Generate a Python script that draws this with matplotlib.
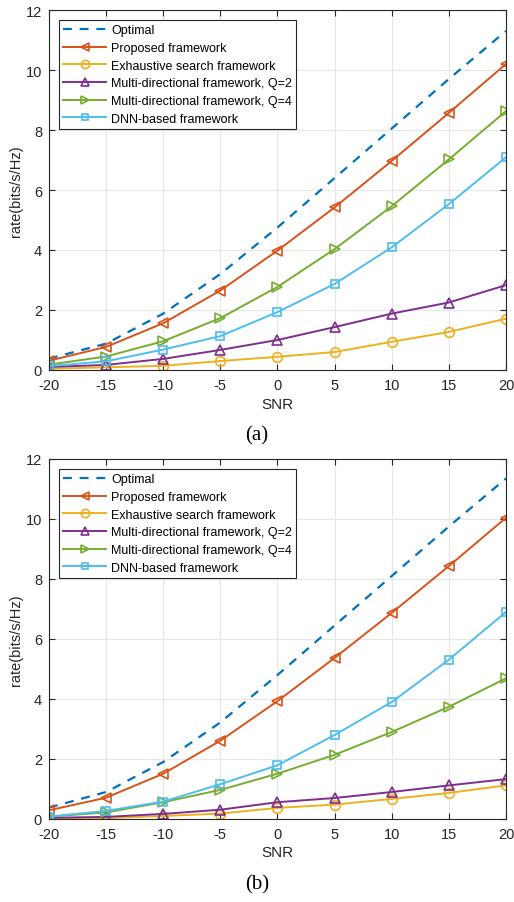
import matplotlib
matplotlib.use("Agg")
import matplotlib.pyplot as plt

snr = [-20, -15, -10, -5, 0, 5, 10, 15, 20]

labels = ["Optimal", "Proposed framework", "Exhaustive search framework",
          "Multi-directional framework, Q=2", "Multi-directional framework, Q=4",
          "DNN-based framework"]

# panel (a)
opt_a = [0.38, 0.88, 1.88, 3.2, 4.75, 6.4, 8.05, 9.7, 11.3]
prop_a = [0.31, 0.77, 1.56, 2.65, 3.98, 5.42, 6.97, 8.57, 10.2]
exh_a = [0.04, 0.09, 0.14, 0.30, 0.44, 0.60, 0.94, 1.27, 1.71]
q2_a = [0.10, 0.17, 0.37, 0.67, 1.0, 1.43, 1.88, 2.25, 2.83]
q4_a = [0.18, 0.45, 0.96, 1.73, 2.77, 4.03, 5.46, 7.02, 8.63]
dnn_a = [0.13, 0.29, 0.68, 1.13, 1.93, 2.87, 4.09, 5.53, 7.09]

# panel (b)
opt_b = [0.38, 0.9, 1.9, 3.22, 4.8, 6.45, 8.1, 9.75, 11.35]
prop_b = [0.29, 0.71, 1.51, 2.61, 3.93, 5.37, 6.87, 8.43, 10.04]
exh_b = [0.02, 0.03, 0.10, 0.18, 0.37, 0.48, 0.67, 0.87, 1.12]
q2_b = [0.04, 0.07, 0.17, 0.31, 0.56, 0.70, 0.90, 1.12, 1.33]
q4_b = [0.08, 0.22, 0.56, 0.97, 1.51, 2.14, 2.90, 3.74, 4.69]
dnn_b = [0.08, 0.27, 0.58, 1.16, 1.79, 2.80, 3.90, 5.31, 6.90]

colors = ["#0072BD", "#D95319", "#EDB120", "#7E2F8E", "#77AC30", "#4DBEEE"]
markers = [None, "<", "o", "^", ">", "s"]
msizes = [0, 7, 7, 7.5, 7.5, 5.5]

plt.rcParams["font.family"] = ["Liberation Sans", "DejaVu Sans"]
plt.rcParams["axes.unicode_minus"] = False

fig = plt.figure(figsize=(5.14, 9.03), dpi=100)
ax_a = fig.add_axes([0.0953, 1 - 371 / 903, 0.8891, 360 / 903])
ax_b = fig.add_axes([0.0953, 1 - 820 / 903, 0.8891, 360 / 903])


def draw(ax, series, tag, ycap):
    for i, ys in enumerate(series):
        if i == 0:
            ax.plot(snr, ys, ls=(0, (4, 3.5)), color=colors[i], lw=1.6, label=labels[i])
        else:
            ax.plot(snr, ys, color=colors[i], lw=1.4, marker=markers[i],
                    ms=msizes[i], mfc="none", mew=1.2, label=labels[i])
    ax.set_xlim(-20, 20)
    ax.set_ylim(0, 12)
    ax.set_xticks(snr)
    ax.set_yticks(range(0, 13, 2))
    ax.grid(True, color="#e6e6e6", lw=0.8)
    ax.set_axisbelow(True)
    ax.tick_params(direction="in", top=True, right=True, labelsize=10.5,
                   length=4, color="#262626", labelcolor="#262626")
    ax.tick_params(axis="x", pad=6)
    ax.tick_params(axis="y", pad=5)
    for s in ax.spines.values():
        s.set_color("#262626")
        s.set_linewidth(0.8)
    ax.set_ylabel("rate(bits/s/Hz)", fontsize=10.5, color="#262626", labelpad=2)
    ax.set_xlabel("SNR", fontsize=11, color="#262626", labelpad=3)
    leg = ax.legend(loc="upper left", bbox_to_anchor=(0.022, 0.972), fontsize=9,
                    handlelength=3.4, handletextpad=0.4, labelspacing=0.45,
                    borderpad=0.35, borderaxespad=0, fancybox=False,
                    edgecolor="#262626", framealpha=1, markerscale=0.85)
    leg.get_frame().set_linewidth(0.8)
    fig.text(0.5, ycap, tag, ha="center", va="center", fontsize=15,
             family=["Liberation Serif", "DejaVu Serif"])


draw(ax_a, [opt_a, prop_a, exh_a, q2_a, q4_a, dnn_a], "(a)", 1 - 436 / 903)
draw(ax_b, [opt_b, prop_b, exh_b, q2_b, q4_b, dnn_b], "(b)", 1 - 885 / 903)

fig.savefig("out.png", dpi=100)
